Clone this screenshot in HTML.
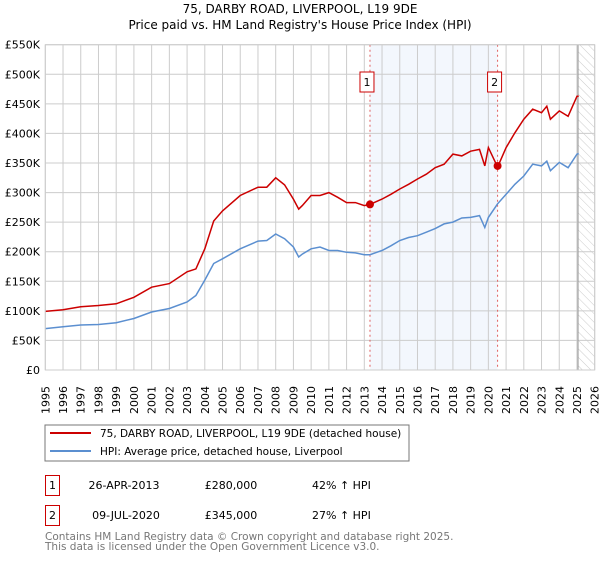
<!DOCTYPE html>
<html><head><meta charset="utf-8"><style>
body{margin:0;background:#fff;font-family:"Liberation Sans","DejaVu Sans",sans-serif}
svg text{font-family:"DejaVu Sans","Liberation Sans",sans-serif}
</style></head><body>
<svg width="600" height="560" viewBox="0 0 600 560">
<defs><pattern id="hatch" width="6" height="6" patternUnits="userSpaceOnUse" patternTransform="rotate(-45)"><line x1="0" y1="0" x2="0" y2="6" stroke="#ccc" stroke-width="1"/></pattern></defs>
<text x="300" y="13" text-anchor="middle" font-size="12">75, DARBY ROAD, LIVERPOOL, L19 9DE</text>
<text x="300" y="29" text-anchor="middle" font-size="12">Price paid vs. HM Land Registry's House Price Index (HPI)</text>
<g id="plot"></g>
<rect x="45" y="425" width="364" height="36" fill="#fff" stroke="#777"/>
<line x1="50" y1="433" x2="91" y2="433" stroke="#cc0000" stroke-width="2"/>
<text x="100" y="437" font-size="10.5">75, DARBY ROAD, LIVERPOOL, L19 9DE (detached house)</text>
<line x1="50" y1="451" x2="91" y2="451" stroke="#5b8fd0" stroke-width="2"/>
<text x="100" y="455" font-size="10.5">HPI: Average price, detached house, Liverpool</text>
<g>
<rect x="45.5" y="475.5" width="14" height="20" fill="#fff" stroke="#cc0000"/><text x="52.5" y="489" text-anchor="middle" font-size="11">1</text>
<text x="124" y="489" text-anchor="middle" font-size="11">26-APR-2013</text>
<text x="231" y="489" text-anchor="middle" font-size="11">£280,000</text>
<text x="312" y="489" font-size="11">42% ↑ HPI</text></g>
<g>
<rect x="45.5" y="505.5" width="14" height="20" fill="#fff" stroke="#cc0000"/><text x="52.5" y="519" text-anchor="middle" font-size="11">2</text>
<text x="126" y="519" text-anchor="middle" font-size="11">09-JUL-2020</text>
<text x="231" y="519" text-anchor="middle" font-size="11">£345,000</text>
<text x="312" y="519" font-size="11">27% ↑ HPI</text></g>
<text x="45" y="540" font-size="10.5" fill="#777">Contains HM Land Registry data © Crown copyright and database right 2025.</text>
<text x="45" y="550" font-size="10.5" fill="#777">This data is licensed under the Open Government Licence v3.0.</text>
</svg>
<script>
const hpiYears=[1995,1996,1997,1998,1999,2000,2001,2002,2003,2003.5,2004,2004.5,2005,2006,2007,2007.5,2008,2008.5,2009,2009.3,2009.5,2010,2010.5,2011,2011.5,2012,2012.5,2013,2013.32,2014,2014.5,2015,2015.5,2016,2016.5,2017,2017.5,2018,2018.5,2019,2019.5,2019.8,2020,2020.52,2021,2021.5,2022,2022.5,2023,2023.3,2023.5,2024,2024.5,2025,2025.1];
const hpiValues=[70,73,76,77,80,87,98,104,115,126,152,180,188,205,218,219,230,222,208,191,196,205,208,202,202,199,198,195,195,202,210,219,224,227,233,239,247,250,257,258,261,241,258,281,297,314,328,348,345,353,337,351,342,365,366];
const priceValues=[99,102,107,109,112,123,140,146,166,171,205,252,269,295,309,309,325,313,289,272,278,295,295,300,292,283,283,278,280,289,297,306,314,323,331,342,348,365,362,370,373,345,376,343,376,401,424,441,435,446,424,438,429,463,463];
const saleYears=[2013.32,2020.52];
const saleValues=[280,345];
const saleLabels=["1","2"];
const yTicks=[0,50,100,150,200,250,300,350,400,450,500,550];
const yTickLabels=["£0","£50K","£100K","£150K","£200K","£250K","£300K","£350K","£400K","£450K","£500K","£550K"];
const xTicks=[1995,1996,1997,1998,1999,2000,2001,2002,2003,2004,2005,2006,2007,2008,2009,2010,2011,2012,2013,2014,2015,2016,2017,2018,2019,2020,2021,2022,2023,2024,2025,2026];
const X0=45.3,X1=594.7,Y0=370,Y1=44.7,xMin=1995,xMax=2026,yMax=550,futureStart=2025.06;
const sx=v=>X0+(v-xMin)/(xMax-xMin)*(X1-X0);
const sy=v=>Y0-v/yMax*(Y0-Y1);
const NS="http://www.w3.org/2000/svg",g=document.getElementById('plot');
function mk(t,a){const e=document.createElementNS(NS,t);for(const k in a)e.setAttribute(k,a[k]);g.appendChild(e);return e;}
let e=mk('rect',{x:sx(saleYears[0]),y:Y1,width:sx(saleYears[1])-sx(saleYears[0]),height:Y0-Y1,fill:'#eef3fc',opacity:0.7});


e=mk('rect',{x:sx(futureStart),y:Y1,width:X1-sx(futureStart),height:Y0-Y1,fill:'url(#hatch)'});


xTicks.forEach(t=>{const l=mk('line',{x1:sx(t),x2:sx(t),y1:Y1,y2:Y0,stroke:'#ccc'});


const tx=mk('text',{x:0,y:0,'font-size':11,transform:`translate(${sx(t)+4},414) rotate(-90)`});tx.textContent=t;

});
yTicks.forEach((t,i)=>{const l=mk('line',{x1:X0,x2:X1,y1:sy(t),y2:sy(t),stroke:'#ccc'});


const tx=mk('text',{x:40,y:sy(t)+4,'font-size':11,'text-anchor':'end'});tx.textContent=yTickLabels[i];

});
e=mk('line',{x1:sx(futureStart),x2:sx(futureStart),y1:Y1,y2:Y0,stroke:'#999','stroke-width':1});


saleYears.forEach((y,i)=>{const l=mk('line',{x1:sx(y),x2:sx(y),y1:Y1,y2:Y0,stroke:'#e06060','stroke-dasharray':'2,3'});

});
const pts=(ys,vs)=>ys.map((y,i)=>sx(y).toFixed(1)+','+sy(vs[i]).toFixed(1)).join(' ');
e=mk('polyline',{points:pts(hpiYears,hpiValues),fill:'none',stroke:'#5b8fd0','stroke-width':1.5});


e=mk('polyline',{points:pts(hpiYears,priceValues),fill:'none',stroke:'#cc0000','stroke-width':1.5});


saleYears.forEach((y,i)=>{const c=mk('circle',{cx:sx(y),cy:sy(saleValues[i]),r:4,fill:'#cc0000'});


const b=mk('rect',{x:sx(y)-10,y:72,width:14,height:20,fill:'#fff',stroke:'#cc0000'});


const t=mk('text',{x:sx(y)-3,y:86,'font-size':11,'text-anchor':'middle'});t.textContent=saleLabels[i];

});
e=mk('rect',{x:X0,y:Y1,width:X1-X0,height:Y0-Y1,fill:'none',stroke:'#ccc'});


</script>
</body></html>
